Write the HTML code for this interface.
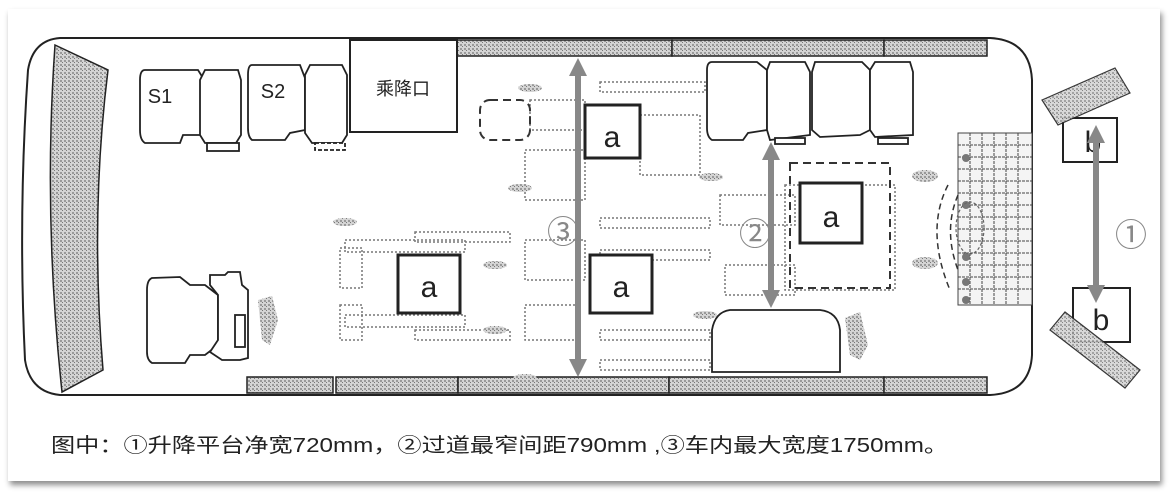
<!DOCTYPE html>
<html><head><meta charset="utf-8"><style>
html,body{margin:0;padding:0;background:#fff;width:1171px;height:495px;overflow:hidden}
</style></head><body>
<svg width="1171" height="495" viewBox="0 0 1171 495" xmlns="http://www.w3.org/2000/svg">
<defs>
<pattern id="hatch" width="4" height="4" patternUnits="userSpaceOnUse">
<rect width="4" height="4" fill="#d4d4d4"/><rect x="0" y="0" width="2" height="2" fill="#9a9a9a"/><rect x="2" y="2" width="1" height="1" fill="#777"/>
</pattern>
<filter id="sh" x="-5%" y="-5%" width="110%" height="115%"><feDropShadow dx="2" dy="4" stdDeviation="3" flood-color="#000" flood-opacity="0.45"/></filter>
</defs>
<rect x="0" y="0" width="1171" height="495" fill="#fff"/>
<rect x="8" y="9" width="1152" height="472" fill="#fff" filter="url(#sh)"/>
<path d="M60,38 L990,38 Q1030,40 1032,80 L1032,355 Q1030,393 990,395 L60,395 Q30,392 25,360 Q18,215 28,70 Q33,40 60,38 Z" fill="none" stroke="#222" stroke-width="2"/>
<path d="M55,45 L108,70 Q90,215 103,370 L62,392 Q43,215 55,45 Z" fill="url(#hatch)" stroke="#222" stroke-width="1.5"/>
<g fill="url(#hatch)" stroke="#222" stroke-width="1.5">
<rect x="455" y="40" width="217" height="16"/><rect x="672" y="40" width="212" height="16"/><rect x="884" y="40" width="103" height="16"/>
<rect x="247" y="377" width="86" height="16"/><rect x="336" y="377" width="122" height="16"/><rect x="458" y="377" width="211" height="16"/><rect x="669" y="377" width="215" height="16"/><rect x="884" y="377" width="103" height="16"/>
</g>
<rect x="350" y="40" width="107" height="92" fill="#fff" stroke="#222" stroke-width="2"/>
<text x="403" y="95" font-family="Noto Sans CJK SC, sans-serif" font-size="18" text-anchor="middle" fill="#222">乘降口</text>
<g fill="#fff" stroke="#222" stroke-width="1.8">
<path d="M145,70 L198,70 L203,78 L203,135 L183,135 L180,143 L145,143 Q140,140 140,130 L140,80 Q140,70 145,70 Z"/>
<path d="M205,70 L238,70 L241,80 L241,135 L236,143 L205,143 L200,135 L200,80 Z"/>
<rect x="207" y="143" width="32" height="8"/>
<path d="M252,65 L300,65 L305,78 L305,130 L290,133 L285,140 L252,140 Q248,137 248,128 L248,75 Q248,65 252,65 Z"/>
<path d="M310,65 L342,65 L347,75 L347,135 L342,143 L312,143 L305,133 L305,75 Z"/>
<rect x="315" y="143" width="30" height="7" stroke-dasharray="4 2"/>
<path d="M712,62 L757,62 L767,70 L767,130 L748,133 L743,140 L712,140 Q707,137 707,128 L707,70 Q707,62 712,62 Z"/>
<path d="M770,62 L805,62 L810,72 L810,135 L770,140 L767,130 L767,70 Z"/>
<path d="M815,62 L862,62 L870,70 L870,130 L860,135 L820,137 L812,130 L812,72 Z"/>
<path d="M875,62 L910,62 L913,72 L913,135 L875,137 L870,130 L870,70 Z"/>
<rect x="775" y="138" width="30" height="6"/><rect x="878" y="138" width="30" height="6"/>
<path d="M152,278 L180,277 L190,285 L205,285 L218,295 L218,345 L205,355 L190,355 L185,363 L152,363 Q147,360 147,352 L147,290 Q147,280 152,278 Z"/>
<path d="M210,275 L225,275 L228,272 L240,272 L242,285 L248,290 L248,358 L240,360 L222,360 L210,352 L218,340 L218,295 L210,285 Z"/>
<rect x="235" y="315" width="10" height="32"/>
<path d="M712,372 L712,330 Q715,312 730,310 L820,310 Q838,312 840,330 L840,372 Z"/>
</g>
<g fill="none" stroke="#777" stroke-width="1.5" stroke-dasharray="2 2">
<rect x="345" y="240" width="120" height="12"/><rect x="345" y="315" width="120" height="12"/>
<rect x="415" y="232" width="95" height="10"/><rect x="415" y="330" width="95" height="10"/>
<rect x="340" y="248" width="22" height="40"/><rect x="340" y="305" width="22" height="35"/>
<rect x="525" y="240" width="60" height="40"/><rect x="525" y="305" width="55" height="35"/>
<rect x="600" y="218" width="110" height="10"/><rect x="600" y="250" width="110" height="10"/>
<rect x="600" y="330" width="110" height="10"/><rect x="600" y="360" width="110" height="10"/>
<rect x="530" y="100" width="55" height="30"/><rect x="525" y="150" width="60" height="50"/>
<rect x="600" y="82" width="105" height="10"/><rect x="640" y="115" width="60" height="60"/>
<rect x="720" y="195" width="75" height="30"/><rect x="725" y="265" width="70" height="30"/>
<rect x="785" y="185" width="110" height="105"/>
</g>
<rect x="480" y="100" width="50" height="40" rx="10" fill="none" stroke="#333" stroke-width="2" stroke-dasharray="8 5"/>
<rect x="790" y="163" width="100" height="125" fill="none" stroke="#333" stroke-width="2" stroke-dasharray="8 5"/>
<g fill="url(#hatch)">
<ellipse cx="530" cy="88" rx="12" ry="4"/><ellipse cx="520" cy="188" rx="12" ry="4"/><ellipse cx="345" cy="222" rx="12" ry="4"/>
<ellipse cx="495" cy="265" rx="12" ry="4"/><ellipse cx="495" cy="330" rx="12" ry="4"/><ellipse cx="525" cy="378" rx="12" ry="4"/>
<ellipse cx="925" cy="176" rx="13" ry="6"/><ellipse cx="925" cy="263" rx="13" ry="6"/><ellipse cx="711" cy="177" rx="12" ry="4"/><ellipse cx="705" cy="315" rx="12" ry="4"/>
<path d="M258,300 L272,296 L278,320 L270,345 L262,340 Z"/><path d="M845,318 L860,312 L868,345 L860,360 L850,355 Z"/>
</g>
<g stroke="#444" stroke-width="1" fill="none">
<rect x="958" y="133" width="74" height="172" fill="#f4f4f4"/>
<path d="M970,133V305M982,133V305M994,133V305M1006,133V305M1018,133V305M958,145H1032M958,157H1032M958,169H1032M958,181H1032M958,193H1032M958,205H1032M958,217H1032M958,229H1032M958,241H1032M958,253H1032M958,265H1032M958,277H1032M958,289H1032" stroke-dasharray="3 1"/>
</g>
<g fill="#777"><circle cx="966" cy="158" r="4"/><circle cx="966" cy="205" r="4"/><circle cx="966" cy="257" r="4"/><circle cx="966" cy="282" r="4"/><circle cx="966" cy="300" r="4"/></g>
<ellipse cx="970" cy="228" rx="14" ry="26" fill="none" stroke="#666" stroke-width="1.2" stroke-dasharray="3 2"/>
<path d="M948,185 Q925,230 950,290" fill="none" stroke="#333" stroke-width="1.5" stroke-dasharray="6 4"/>
<path d="M958,195 Q943,230 958,270" fill="none" stroke="#333" stroke-width="1.5" stroke-dasharray="6 4"/>
<g fill="#fff" stroke="#222" stroke-width="3">
<rect x="585" y="105" width="55" height="53"/><rect x="398" y="255" width="62" height="58"/><rect x="590" y="255" width="62" height="58"/><rect x="800" y="183" width="62" height="60"/>
<rect x="1063" y="118" width="54" height="44" stroke-width="2"/><rect x="1073" y="288" width="57" height="54" stroke-width="2"/>
</g>
<g fill="url(#hatch)" stroke="#222" stroke-width="1.2" opacity="0.9">
<polygon points="1042,100 1115,68 1130,93 1058,125"/>
<polygon points="1050,330 1065,312 1140,370 1125,388"/>
</g>
<g font-family="Liberation Sans, sans-serif" font-size="30" fill="#222" text-anchor="middle">
<text x="612" y="147">a</text><text x="429" y="297">a</text><text x="621" y="297">a</text><text x="831" y="227">a</text>
<text x="1093" y="152">b</text><text x="1101" y="330">b</text>
<text x="160" y="103" font-size="20">S1</text><text x="273" y="98" font-size="20">S2</text>
</g>
<g stroke="#888" stroke-width="6" fill="#888">
<line x1="578" y1="72" x2="578" y2="362"/><line x1="771" y1="155" x2="771" y2="295"/><line x1="1096" y1="138" x2="1096" y2="290"/>
</g>
<g fill="#888">
<polygon points="578,58 569,76 587,76"/><polygon points="578,377 569,359 587,359"/>
<polygon points="771,142 762,160 780,160"/><polygon points="771,308 762,290 780,290"/>
<polygon points="1096,125 1087,143 1105,143"/><polygon points="1096,303 1087,285 1105,285"/>
</g>
<g font-family="Noto Sans CJK SC, sans-serif" font-size="32" fill="#888" text-anchor="middle">
<text x="563" y="243">③</text><text x="755" y="245">②</text><text x="1131" y="246">①</text>
</g>
<text x="51" y="452" font-family="Liberation Sans, Noto Sans CJK SC, sans-serif" font-size="20" fill="#222" textLength="897" lengthAdjust="spacingAndGlyphs">图中：①升降平台净宽720mm，②过道最窄间距790mm ,③车内最大宽度1750mm。</text>
</svg>
</body></html>
